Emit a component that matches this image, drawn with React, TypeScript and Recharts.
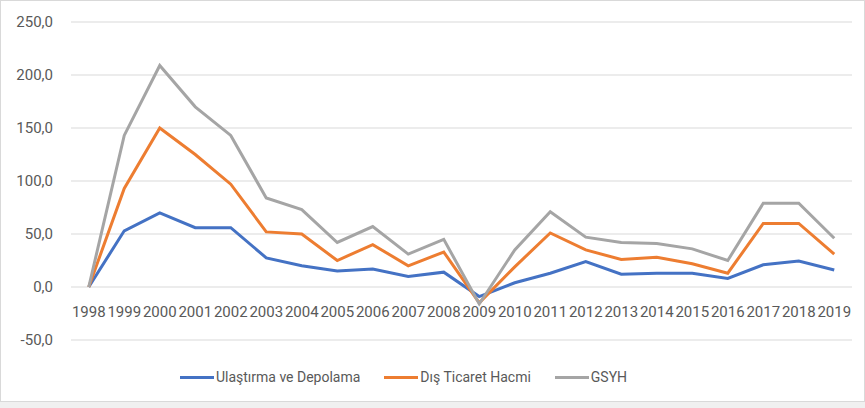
import * as React from 'react'
import { CartesianGrid, Line, LineChart, XAxis, YAxis } from 'recharts'

const years = [
  '1998', '1999', '2000', '2001', '2002', '2003', '2004', '2005', '2006', '2007', '2008',
  '2009', '2010', '2011', '2012', '2013', '2014', '2015', '2016', '2017', '2018', '2019',
]

const ulastirma = [0, 53, 70, 56, 56, 27.5, 20, 15, 17, 10, 14, -9, 4, 13, 24, 12, 13, 13, 8, 21, 24.5, 16]
const disTicaret = [0, 93, 150, 125, 97, 52, 50, 25, 40, 20, 33, -15, 19, 51, 35, 26, 28, 22, 13, 60, 60, 31]
const gsyh = [0, 143, 209, 170, 143, 84, 73, 42, 57, 31, 45, -16, 35, 71, 47, 42, 41, 36, 25, 79, 79, 46]

const yTicks = [-50, 0, 50, 100, 150, 200, 250]

const series = [
  { key: 'ulastirma', name: 'Ulaştırma ve Depolama', color: '#4472C4' },
  { key: 'disTicaret', name: 'Dış Ticaret Hacmi', color: '#ED7D31' },
  { key: 'gsyh', name: 'GSYH', color: '#A5A5A5' },
]

const data = years.map((year, i) => ({
  year,
  ulastirma: ulastirma[i],
  disTicaret: disTicaret[i],
  gsyh: gsyh[i],
}))

const font = 'Roboto, "Open Sans", sans-serif'
const textColor = '#595959'

const fmt = (v: number) => v.toFixed(1).replace('.', ',')

// category labels sit next to the 0 line, like the Excel original
const YearTick = (props: any) => {
  const { x, y, payload } = props
  return (
    <text x={x} y={y} dy={-36} textAnchor="middle" dominantBaseline="central"
      fill={textColor} fontSize={15} fontFamily={font}>
      {payload.value}
    </text>
  )
}

export default function App() {
  return (
    <div style={{ position: 'absolute', left: 0, top: 0, width: 865, height: 408, background: '#f0f0f0' }}>
      <div style={{ position: 'absolute', left: 0, top: 0, width: 863, height: 400, border: '1px solid #d9d9d9', background: '#fff' }}>
        <LineChart width={863} height={400} data={data} margin={{ top: 21, right: 12, left: 0, bottom: 31 }}>
          <CartesianGrid vertical={false} stroke="#d9d9d9" />
          <XAxis dataKey="year" scale="band" axisLine={false} tickLine={false} height={30} interval={0} tick={<YearTick />} />
          <YAxis
            domain={[-50, 250]}
            ticks={yTicks}
            axisLine={false}
            tickLine={false}
            width={70}
            tickMargin={12}
            tickFormatter={fmt}
            tick={{ fill: textColor, fontSize: 15, fontFamily: font }}
          />
          {series.map((s) => (
            <Line key={s.key} type="linear" dataKey={s.key} name={s.name} stroke={s.color}
              strokeWidth={3} dot={false} isAnimationActive={false} />
          ))}
        </LineChart>
        <div style={{ position: 'absolute', left: 0, top: 368, width: 805, display: 'flex', justifyContent: 'center', alignItems: 'center', gap: 24, fontFamily: font, fontSize: 14, color: textColor }}>
          {series.map((s) => (
            <div key={s.key} style={{ display: 'flex', alignItems: 'center' }}>
              <span style={{ display: 'inline-block', width: 34, height: 3, background: s.color, marginRight: 2 }} />
              <span>{s.name}</span>
            </div>
          ))}
        </div>
      </div>
    </div>
  )
}
